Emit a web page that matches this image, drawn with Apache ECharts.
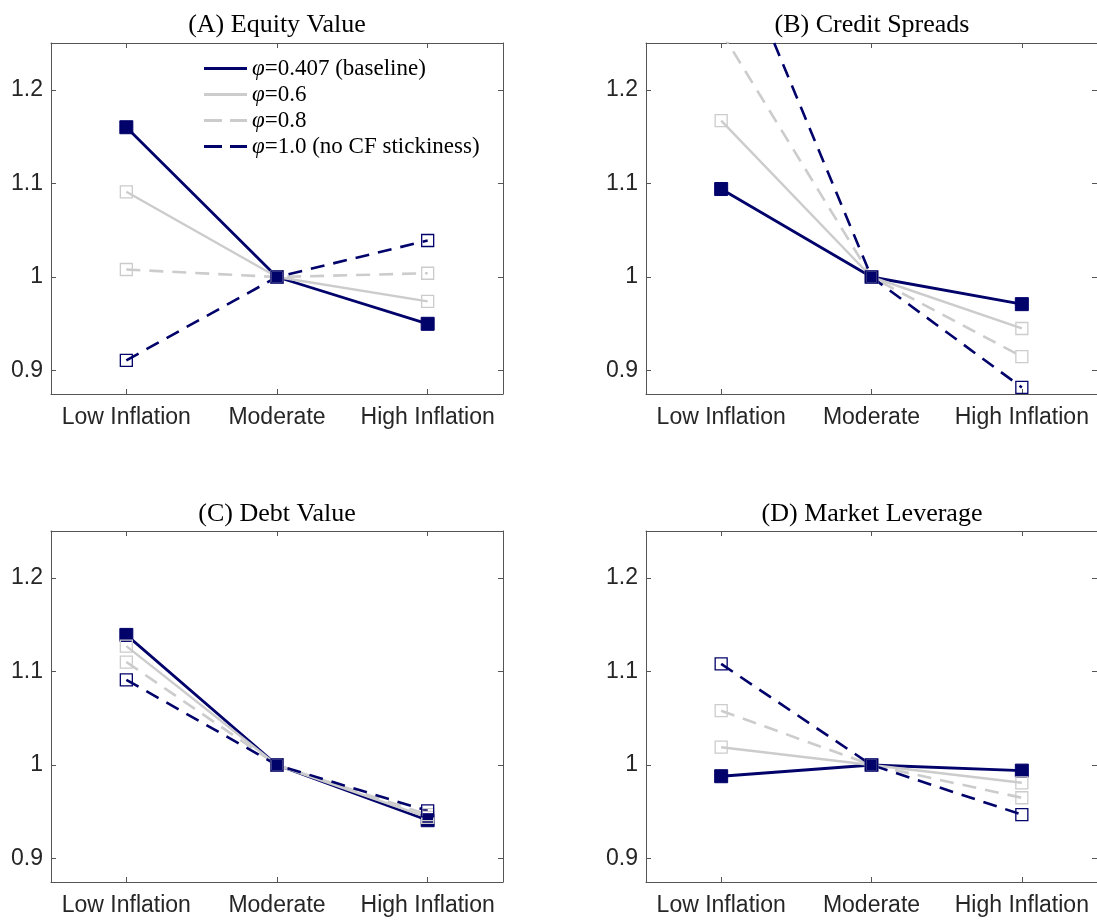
<!DOCTYPE html>
<html>
<head>
<meta charset="utf-8">
<script src="https://cdn.jsdelivr.net/npm/echarts@6/dist/echarts.min.js"></script>
<style>html,body{margin:0;padding:0;background:#fff}#c{width:1097px;height:920px}</style>
</head>
<body>
<div id="c"></div>
<script>
// ---- data ----
const categories = ['Low Inflation', 'Moderate', 'High Inflation'];
const seriesNames = ['φ=0.407 (baseline)', 'φ=0.6', 'φ=0.8', 'φ=1.0 (no CF stickiness)'];
const panelTitles = ['(A) Equity Value', '(B) Credit Spreads', '(C) Debt Value', '(D) Market Leverage'];
const yTicks = [0.9, 1.0, 1.1, 1.2];

// (A) Equity Value
const equityBase = [1.160, 1, 0.950];
const equity06   = [1.091, 1, 0.974];
const equity08   = [1.008, 1, 1.004];
const equity10   = [0.911, 1, 1.039];
// (B) Credit Spreads
const creditBase = [1.094, 1, 0.971];
const credit06   = [1.167, 1, 0.945];
const credit08   = [1.262, 1, 0.915];
const credit10   = [1.386, 1, 0.882];
// (C) Debt Value
const debtBase = [1.139, 1, 0.941];
const debt06   = [1.127, 1, 0.944];
const debt08   = [1.110, 1, 0.947];
const debt10   = [1.091, 1, 0.951];
// (D) Market Leverage
const levBase = [0.988, 1, 0.994];
const lev06   = [1.019, 1, 0.981];
const lev08   = [1.058, 1, 0.965];
const lev10   = [1.108, 1, 0.947];

const panelData = [
  [equityBase, equity06, equity08, equity10],
  [creditBase, credit06, credit08, credit10],
  [debtBase, debt06, debt08, debt10],
  [levBase, lev06, lev08, lev10]
];

// ---- styling ----
const NAVY = '#02026b';
const GRAY = '#cccccc';
const AXIS = '#555555';
const styles = [
  { color: NAVY, width: 2.8, dash: 'solid', fill: NAVY, size: 13, bw: 1 },
  { color: GRAY, width: 2.4, dash: 'solid', fill: 'rgba(0,0,0,0)', size: 12, bw: 1.3 },
  { color: GRAY, width: 2.6, dash: [14, 9], fill: 'rgba(0,0,0,0)', size: 12, bw: 1.3 },
  { color: NAVY, width: 2.6, dash: [14, 9], fill: 'rgba(0,0,0,0)', size: 12, bw: 1.3 }
];

const grids = [
  { left: 51, top: 43, width: 452, height: 351 },
  { left: 646, top: 43, width: 452, height: 351 },
  { left: 51, top: 531, width: 452, height: 351 },
  { left: 646, top: 531, width: 452, height: 351 }
];
const titlePos = [
  { x: 277, y: 12 }, { x: 872, y: 12 }, { x: 277, y: 501 }, { x: 872, y: 501 }
];

const tickFont = { fontFamily: 'Liberation Sans', fontSize: 23, color: '#262626' };

const xAxes = [], yAxes = [], series = [], titles = [];
grids.forEach((g, i) => {
  titles.push({
    text: panelTitles[i], left: titlePos[i].x, top: titlePos[i].y, textAlign: 'center', padding: 0,
    textStyle: { fontFamily: 'Liberation Serif', fontSize: 26, fontWeight: 'normal', color: '#000' }
  });
  xAxes.push({
    type: 'category', gridIndex: i, data: categories, position: 'bottom', boundaryGap: true,
    axisLine: { show: true, lineStyle: { color: AXIS, width: 1 } },
    axisTick: { show: true, inside: true, alignWithLabel: true, length: 5, lineStyle: { color: AXIS } },
    axisLabel: Object.assign({ margin: 12, interval: 0 }, tickFont),
    splitLine: { show: false }
  });
  xAxes.push({
    type: 'category', gridIndex: i, data: categories, position: 'top', boundaryGap: true,
    axisLine: { show: true, onZero: false, lineStyle: { color: AXIS, width: 1 } },
    axisTick: { show: true, inside: true, alignWithLabel: true, length: 5, lineStyle: { color: AXIS } },
    axisLabel: { show: false }, splitLine: { show: false }
  });
  yAxes.push({
    type: 'value', gridIndex: i, min: 0.875, max: 1.25, position: 'left',
    axisLine: { show: true, onZero: false, lineStyle: { color: AXIS, width: 1 } },
    axisTick: { show: true, inside: true, length: 5, customValues: yTicks, lineStyle: { color: AXIS } },
    axisLabel: Object.assign({ margin: 8, customValues: yTicks, formatter: v => String(Math.round(v * 10) / 10) }, tickFont),
    splitLine: { show: false }
  });
  yAxes.push({
    type: 'value', gridIndex: i, min: 0.875, max: 1.25, position: 'right',
    axisLine: { show: true, onZero: false, lineStyle: { color: AXIS, width: 1 } },
    axisTick: { show: true, inside: true, length: 5, customValues: yTicks, lineStyle: { color: AXIS } },
    axisLabel: { show: false }, splitLine: { show: false }
  });
  panelData[i].forEach((vals, k) => {
    const s = styles[k];
    series.push({
      name: seriesNames[k], type: 'line', xAxisIndex: i * 2, yAxisIndex: i * 2,
      data: vals, clip: true, symbol: 'rect', symbolSize: s.size, showAllSymbol: true,
      lineStyle: { color: s.color, width: s.width, type: s.dash },
      itemStyle: { color: s.fill, borderColor: s.color, borderWidth: s.bw },
      emphasis: { disabled: true }
    });
  });
});

const solidIcon = 'path://M0,0H43V3H0Z';
const dashIcon = 'path://M0,0H18V3H0Z M26,0H43V3H26Z';

const option = {
  animation: false,
  backgroundColor: '#fff',
  title: titles,
  grid: grids,
  xAxis: xAxes,
  yAxis: yAxes,
  legend: {
    orient: 'vertical', left: 204, top: 57, padding: 0, itemGap: 3,
    itemWidth: 43, itemHeight: 3, symbolKeepAspect: false,
    selectedMode: false,
    data: seriesNames.map((n, k) => ({
      name: n,
      icon: styles[k].dash === 'solid' ? solidIcon : dashIcon,
      itemStyle: { color: styles[k].color, borderWidth: 0 }
    })),
    formatter: n => n.replace('φ', '{i|φ}'),
    textStyle: {
      fontFamily: 'Liberation Serif', fontSize: 23, color: '#000', lineHeight: 23,
      rich: { i: { fontFamily: 'Liberation Serif', fontStyle: 'italic', fontSize: 23, lineHeight: 23, color: '#000' } }
    }
  },
  series: series
};

const chart = echarts.init(document.getElementById('c'), null, { renderer: 'canvas' });
chart.setOption(option);
</script>
</body>
</html>
